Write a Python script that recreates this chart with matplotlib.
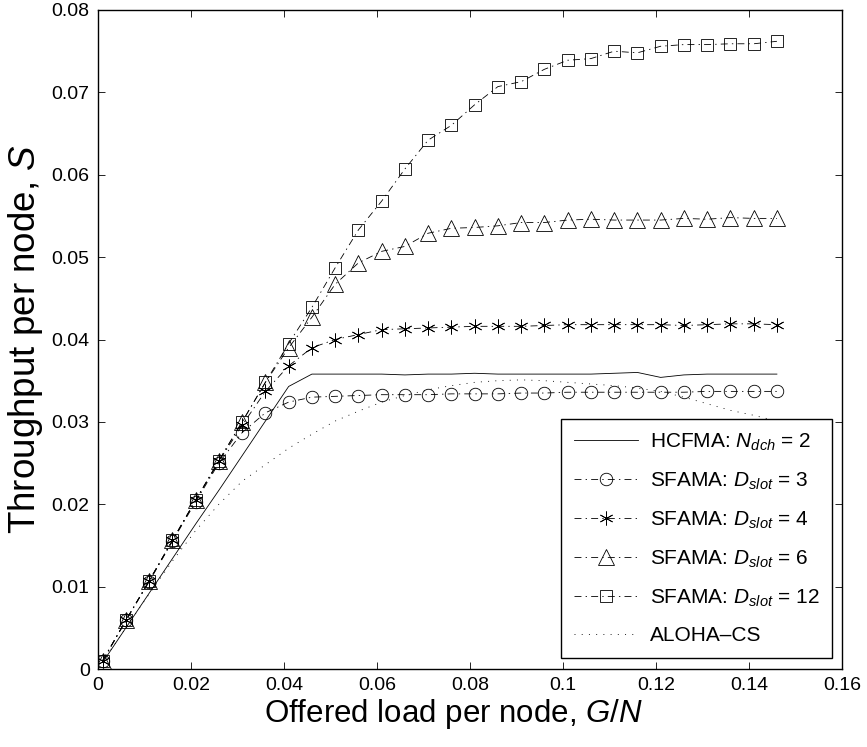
import matplotlib
matplotlib.use("Agg")
import matplotlib.pyplot as plt

plt.rcParams['font.family'] = ['Liberation Sans', 'DejaVu Sans']
plt.rcParams['mathtext.fontset'] = 'custom'
plt.rcParams['mathtext.rm'] = 'Liberation Sans'
plt.rcParams['mathtext.it'] = 'Liberation Sans:italic'
plt.rcParams['lines.scale_dashes'] = False

# ---- data ----
x = [0.001, 0.006, 0.011, 0.016, 0.021, 0.026, 0.031, 0.036, 0.041, 0.046,
     0.051, 0.056, 0.061, 0.066, 0.071, 0.076, 0.081, 0.086, 0.091, 0.096,
     0.101, 0.106, 0.111, 0.116, 0.121, 0.126, 0.131, 0.136, 0.141, 0.146]

hcfma = [0.0008, 0.0050, 0.0092, 0.0134, 0.0176, 0.0217, 0.0259, 0.0301, 0.0343, 0.0358,
         0.0358, 0.0358, 0.0358, 0.0357, 0.0358, 0.0358, 0.0359, 0.0358, 0.0358, 0.0358,
         0.0358, 0.0358, 0.0359, 0.0360, 0.0354, 0.0357, 0.0358, 0.0358, 0.0358, 0.0358]

sfama3 = [0.0010, 0.0059, 0.0106, 0.0155, 0.0203, 0.0250, 0.0287, 0.0311, 0.0324, 0.0330,
          0.0331, 0.0332, 0.0333, 0.0333, 0.0333, 0.0334, 0.0334, 0.0334, 0.0335, 0.0335,
          0.0336, 0.0336, 0.0336, 0.0336, 0.0336, 0.0336, 0.0337, 0.0337, 0.0337, 0.0337]

sfama4 = [0.0010, 0.0059, 0.0107, 0.0156, 0.0205, 0.0252, 0.0296, 0.0337, 0.0368, 0.0390,
          0.0400, 0.0406, 0.0412, 0.0413, 0.0414, 0.0415, 0.0416, 0.0416, 0.0416, 0.0417,
          0.0418, 0.0418, 0.0418, 0.0418, 0.0418, 0.0417, 0.0418, 0.0419, 0.0419, 0.0418]

sfama6 = [0.0010, 0.0059, 0.0107, 0.0156, 0.0205, 0.0253, 0.0300, 0.0348, 0.0390, 0.0427,
          0.0467, 0.0493, 0.0507, 0.0513, 0.0529, 0.0535, 0.0536, 0.0538, 0.0542, 0.0542,
          0.0545, 0.0546, 0.0545, 0.0545, 0.0545, 0.0547, 0.0546, 0.0548, 0.0547, 0.0547]

sfama12 = [0.0010, 0.0059, 0.0107, 0.0156, 0.0205, 0.0253, 0.0300, 0.0348, 0.0395, 0.0439,
           0.0487, 0.0533, 0.0568, 0.0607, 0.0642, 0.0660, 0.0685, 0.0707, 0.0713, 0.0728,
           0.0739, 0.0741, 0.0750, 0.0748, 0.0756, 0.0758, 0.0758, 0.0759, 0.0759, 0.0762]

aloha = [0.0009, 0.0050, 0.0091, 0.0131, 0.0168, 0.0200, 0.0228, 0.0248, 0.0268, 0.0285,
         0.0301, 0.0313, 0.0324, 0.0332, 0.0339, 0.0344, 0.0348, 0.0350, 0.0351, 0.0350,
         0.0348, 0.0346, 0.0344, 0.0341, 0.0337, 0.0330, 0.0322, 0.0314, 0.0308, 0.0301]

labels = [r'HCFMA: $N_{dch}$ = 2', r'SFAMA: $D_{slot}$ = 3', r'SFAMA: $D_{slot}$ = 4',
          r'SFAMA: $D_{slot}$ = 6', r'SFAMA: $D_{slot}$ = 12', 'ALOHA\u2013CS']

xticks = [0, 0.02, 0.04, 0.06, 0.08, 0.1, 0.12, 0.14, 0.16]
xticklabels = ['0', '0.02', '0.04', '0.06', '0.08', '0.1', '0.12', '0.14', '0.16']
yticks = [0, 0.01, 0.02, 0.03, 0.04, 0.05, 0.06, 0.07, 0.08]
yticklabels = ['0', '0.01', '0.02', '0.03', '0.04', '0.05', '0.06', '0.07', '0.08']

# ---- figure ----
fig = plt.figure(figsize=(8.67, 7.47), dpi=100)
ax = fig.add_axes([98/867, (747-669)/747, 744/867, 659/747])

dashdot = (0, (5, 3, 1, 3))
lw = 0.6
ax.plot(x, hcfma, color='k', lw=lw, ls='-', label=labels[0])
ax.plot(x, sfama3, color='k', lw=lw, ls=dashdot, marker='o', ms=9, mfc='none', mec='k', mew=0.6, label=labels[1])
ax.plot(x, sfama4, color='k', lw=lw, ls=dashdot, marker=(6, 2, 0), ms=10, mec='k', mew=0.6, label=labels[2])
ax.plot(x, sfama6, color='k', lw=lw, ls=dashdot, marker='^', ms=11, mfc='none', mec='k', mew=0.6, label=labels[3])
ax.plot(x, sfama12, color='k', lw=lw, ls=dashdot, marker='s', ms=8, mfc='none', mec='k', mew=0.6, label=labels[4])
ax.plot(x, aloha, color='k', lw=lw, ls=(0, (0.7, 4.5)), label=labels[5])

ax.set_xlim(0, 0.16)
ax.set_ylim(0, 0.08)
ax.set_xticks(xticks)
ax.set_xticklabels(xticklabels)
ax.set_yticks(yticks)
ax.set_yticklabels(yticklabels)
ax.tick_params(direction='in', length=5, width=0.6, top=True, right=True,
               labelsize=14, pad=6)
for s in ax.spines.values():
    s.set_linewidth(1.0)

ax.set_xlabel('Offered load per node, $G/N$', fontsize=22.5, labelpad=2)
ax.xaxis.label.set_x(0.478)
ax.set_ylabel('Throughput per node, $S$', fontsize=26.5, labelpad=5)

leg = ax.legend(loc='lower right', bbox_to_anchor=(0.9866, 0.0167), borderaxespad=0,
                fontsize=15, frameon=True, fancybox=False, framealpha=1,
                edgecolor='k', handlelength=3.1, numpoints=1, labelspacing=0.85,
                handletextpad=0.55, borderpad=0.6)
leg.get_frame().set_linewidth(1.0)

fig.savefig('out.png', dpi=100)
